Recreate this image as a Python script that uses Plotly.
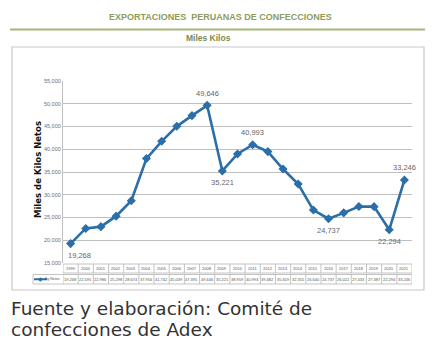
import plotly.graph_objects as go

# Annual apparel export volumes (thousand kg, net)
years = [str(y) for y in range(1999, 2022)]
kilos = [19268, 22595, 22986, 25298, 28674, 37956, 41742, 45039, 47395, 49646,
         35221, 38959, 40993, 39482, 35659, 32355, 26640, 24737, 26022, 27433,
         27387, 22294, 33246]

# Points that carry a value label, and where the label sits
labelled = {0: "below", 9: "above", 10: "below", 12: "above",
            17: "below", 21: "below", 22: "above"}

title = "EXPORTACIONES  PERUANAS DE CONFECCIONES"
subtitle = "Miles Kilos"
y_title = "Miles de Kilos Netos"
series_name = "Kg Netos"
caption_lines = ["Fuente y elaboración: Comité de", "confecciones de Adex"]

W, H = 434, 350
L, R, T, B = 63, 22, 81, 87
PW, PH = W - L - R, H - T - B

def px(x):  # horizontal pixel -> paper
    return (x - L) / PW

def py(y):  # vertical pixel -> paper
    return (H - B - y) / PH

line_col = "#2b6ea8"
olive = "#8d9c5a"
grid_col = "#bfbfbf"
cell_col = "#b5b5b5"
txt_col = "#707070"
narrow = "Liberation Sans Narrow, Liberation Sans"

idx = list(range(len(years)))

fig = go.Figure()
fig.add_trace(go.Scatter(
    x=idx, y=kilos, mode="lines+markers",
    line=dict(color=line_col, width=2.6),
    marker=dict(symbol="diamond", size=7, color=line_col),
    showlegend=False, hoverinfo="x+y",
))

ann = []
shapes = []

def note(x, y, text, font, xref="paper", yref="paper", **kw):
    d = dict(x=x, y=y, xref=xref, yref=yref, text=text, showarrow=False, font=font,
             xanchor="center", yanchor="middle")
    d.update(kw)
    ann.append(d)

# value labels on chosen points
for i, pos in labelled.items():
    note(i, kilos[i], f"{kilos[i]:,}", dict(size=7.5, color="#666666", family=narrow),
         xref="x", yref="y", yshift=(-12 if pos == "below" else 12),
         xshift=(9 if i == 0 else 0))

# outer chart frame
shapes.append(dict(type="rect", xref="paper", yref="paper",
                   x0=px(12), x1=px(424), y0=py(290), y1=py(47),
                   line=dict(color="#c8c8c8", width=1.2)))
# decorative rule under the heading
shapes.append(dict(type="line", xref="paper", yref="paper",
                   x0=px(10), x1=px(425), y0=py(29.5), y1=py(29.5),
                   line=dict(color="#a7b57a", width=2.2)))

# data table under the axis
row1_top, row1_bot = py(264), py(273)
row2_top, row2_bot = py(274.5), py(284)
for yy, x0 in [(row1_top, 0), (row1_bot, 0), (row2_top, px(33)), (row2_bot, px(33))]:
    shapes.append(dict(type="line", xref="paper", yref="paper", x0=x0, x1=1,
                       y0=yy, y1=yy, line=dict(color=cell_col, width=0.8)))
shapes.append(dict(type="line", xref="paper", yref="paper", x0=px(33), x1=px(33),
                   y0=row2_bot, y1=row2_top, line=dict(color=cell_col, width=0.8)))
for k in range(len(years) + 1):
    for a, b in [(row1_bot, row1_top), (row2_bot, row2_top)]:
        shapes.append(dict(type="line", xref="x", yref="paper", x0=k - 0.5, x1=k - 0.5,
                           y0=a, y1=b, line=dict(color=cell_col, width=0.8)))

tiny = dict(size=4, color="#555555", family=narrow)
for i, (yr, v) in enumerate(zip(years, kilos)):
    note(i, (row1_top + row1_bot) / 2, yr, tiny, xref="x")
    note(i, (row2_top + row2_bot) / 2, f"{v:,}", tiny, xref="x")

# legend key inside the table
ly = (row2_top + row2_bot) / 2
shapes.append(dict(type="line", xref="paper", yref="paper", x0=px(34), x1=px(47),
                   y0=ly, y1=ly, line=dict(color=line_col, width=2)))
note(px(40), ly, "◆", dict(size=6, color=line_col))
note(px(62), ly, series_name, dict(size=3.5, color="#555555", family=narrow), xanchor="right")

# headings
note(px(220), py(17), f"<b>{title}</b>", dict(size=9, color=olive, family="Liberation Sans"))
note(px(208), py(38), f"<b>{subtitle}</b>", dict(size=8.5, color="#7d8a52", family="Liberation Sans"))
# vertical axis title
note(px(38), py(170), f"<b>{y_title}</b>", dict(size=8.5, color="#111111", family="DejaVu Sans"),
     textangle=-90)
# source caption, one annotation per line
for line, base in zip(caption_lines, [316, 337]):
    note(px(9), py(base + 4.5), line, dict(size=18.5, color="#333333", family="DejaVu Sans"),
         xanchor="left", yanchor="bottom", align="left")

fig.update_layout(
    width=W, height=H,
    margin=dict(l=L, r=R, t=T, b=B),
    paper_bgcolor="white", plot_bgcolor="white",
    xaxis=dict(range=[-0.5, len(years) - 0.5], showticklabels=False, showgrid=False,
               zeroline=False, fixedrange=True),
    yaxis=dict(range=[15000, 55000], dtick=5000, tickformat=",", showgrid=True,
               gridcolor=grid_col, gridwidth=1.3, zeroline=False,
               showline=True, linecolor=grid_col, linewidth=1.2,
               tickfont=dict(size=5.5, color=txt_col, family=narrow),
               ticks="", ticklen=0, automargin=False),
    annotations=ann, shapes=shapes,
)

fig.write_html("out.html")
